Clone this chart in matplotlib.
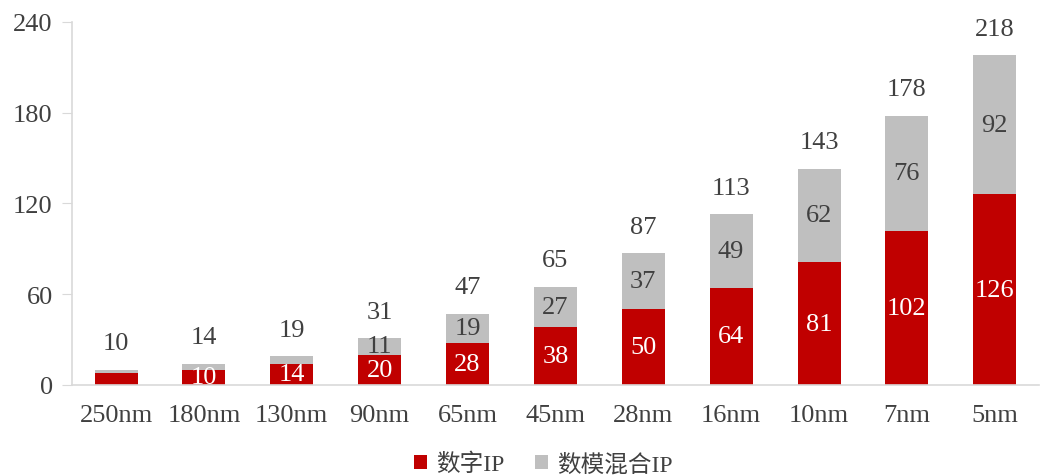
import numpy as np
import matplotlib.pyplot as plt

plt.rcParams['font.family'] = ['Liberation Serif', 'Noto Sans CJK SC']

nodes = ["250nm", "180nm", "130nm", "90nm", "65nm", "45nm", "28nm", "16nm", "10nm", "7nm", "5nm"]
digital = [8, 10, 14, 20, 28, 38, 50, 64, 81, 102, 126]
mixed = [2, 4, 5, 11, 19, 27, 37, 49, 62, 76, 92]
totals = [10, 14, 19, 31, 47, 65, 87, 113, 143, 178, 218]
show_red = [False, True, True, True, True, True, True, True, True, True, True]
show_gray = [False, False, False, True, True, True, True, True, True, True, True]

red = "#C00000"
gray = "#BFBFBF"
txt = "#404040"
fs = 19

fig = plt.figure(figsize=(10.45, 4.77), dpi=100)
ax = fig.add_axes([0.069, 0.191, 0.925, 0.761])

x = np.arange(len(nodes))
ax.bar(x, digital, width=0.49, color=red, label="数字IP")
ax.bar(x, mixed, width=0.49, bottom=digital, color=gray, label="数模混合IP")

for i in range(len(nodes)):
    if show_red[i]:
        ax.text(x[i], digital[i] / 2, str(digital[i]), ha="center", va="center",
                color="white", fontsize=fs)
    if show_gray[i]:
        ax.text(x[i], digital[i] + mixed[i] / 2, str(mixed[i]), ha="center", va="center",
                color=txt, fontsize=fs)
    ax.annotate(str(totals[i]), (x[i], totals[i]), xytext=(0, 19), textcoords="offset points",
                ha="center", va="center", color=txt, fontsize=fs)

ax.set_xlim(-0.5, len(nodes) - 0.5)
ax.set_ylim(0, 240)
ax.set_yticks([0, 60, 120, 180, 240])
ax.set_xticks(x)
ax.set_xticklabels(nodes)
ax.tick_params(axis="y", colors="#D9D9D9", labelcolor=txt, labelsize=fs, length=7, pad=7)
ax.tick_params(axis="x", length=0, labelcolor=txt, labelsize=fs, pad=14)

for s in ["top", "right"]:
    ax.spines[s].set_visible(False)
for s in ["left", "bottom"]:
    ax.spines[s].set_color("#D9D9D9")
    ax.spines[s].set_linewidth(1.2)

fig.legend(loc="center", bbox_to_anchor=(0.52, 0.025), ncol=2, frameon=False,
           fontsize=17, labelcolor=txt, handlelength=0.55, handleheight=0.55,
           handletextpad=0.4, columnspacing=1.3, borderpad=0)

fig.savefig("out.png", dpi=100)
